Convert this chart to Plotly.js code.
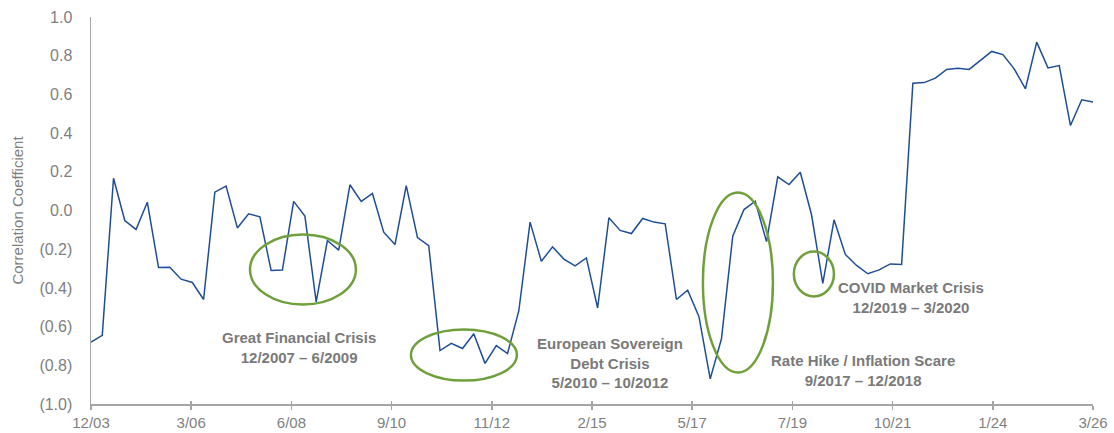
<!DOCTYPE html>
<html>
<head>
<meta charset="utf-8">
<script src="https://cdn.plot.ly/plotly-3.0.1.min.js"></script>
<style>html,body{margin:0;padding:0;background:#fff;}#chart{width:1114px;height:433px;}</style>
</head>
<body>
<div id="chart"></div>
<script>
// Quarterly correlation coefficient, 12/2003 .. 3/2026 (90 quarters)
const correlation = [
  -0.680, -0.645, 0.167, -0.052, -0.098, 0.043, -0.295, -0.293, -0.355, -0.372,
  -0.460, 0.095, 0.126, -0.090, -0.017, -0.033, -0.310, -0.308, 0.047, -0.029,
  -0.472, -0.155, -0.205, 0.133, 0.047, 0.088, -0.112, -0.176, 0.129, -0.140,
  -0.182, -0.724, -0.687, -0.713, -0.637, -0.790, -0.698, -0.739, -0.518, -0.060,
  -0.262, -0.188, -0.251, -0.286, -0.245, -0.504, -0.038, -0.103, -0.119, -0.041,
  -0.060, -0.069, -0.460, -0.412, -0.549, -0.870, -0.663, -0.133, 0.005, 0.048,
  -0.161, 0.174, 0.134, 0.198, -0.022, -0.377, -0.048, -0.227, -0.284, -0.327,
  -0.307, -0.276, -0.279, 0.658, 0.661, 0.684, 0.729, 0.735, 0.729, 0.774,
  0.822, 0.806, 0.732, 0.629, 0.870, 0.737, 0.749, 0.439, 0.572, 0.560
];
// quarter labels (categories)
const quarterLabels = [];
{
  let y = 2003, m = 12;
  for (let i = 0; i < correlation.length; i++) {
    quarterLabels.push(m + '/' + String(y).slice(2));
    m += 3; if (m > 12) { m -= 12; y += 1; }
  }
}
const xTickLabels = ['12/03', '3/06', '6/08', '9/10', '11/12', '2/15', '5/17', '7/19', '10/21', '1/24', '3/26'];
const yTickValues = [1.0, 0.8, 0.6, 0.4, 0.2, 0.0, -0.2, -0.4, -0.6, -0.8, -1.0];
const yTickLabels = ['1.0', '0.8', '0.6', '0.4', '0.2', '0.0', '(0.2)', '(0.4)', '(0.6)', '(0.8)', '(1.0)'];
const crisisLabels = [
  'Great Financial Crisis<br>12/2007 – 6/2009',
  'European Sovereign<br>Debt Crisis<br>5/2010 – 10/2012',
  'Rate Hike / Inflation Scare<br>9/2017 – 12/2018',
  'COVID Market Crisis<br>12/2019 – 3/2020'
];

const n = correlation.length;
const xIdx = correlation.map((_, i) => i);
const lastIdx = n - 1;
const tickVals = xTickLabels.map((_, k) => k * lastIdx / (xTickLabels.length - 1));

const grey = '#7f7f7f';
const axisGrey = '#a6a6a6';
const green = '#70a03c';

const trace = {
  x: xIdx, y: correlation, type: 'scatter', mode: 'lines',
  line: { color: '#1f4e96', width: 1.5 },
  text: quarterLabels, hovertemplate: '%{text}: %{y:.2f}<extra></extra>'
};

function ell(x0, x1, y0, y1) {
  return { type: 'circle', xref: 'x', yref: 'y', x0, x1, y0, y1,
           line: { color: green, width: 2.5 }, fillcolor: 'rgba(0,0,0,0)' };
}
function ann(text, x, y) {
  return { text, x, y, xref: 'x', yref: 'y', showarrow: false, align: 'center',
           font: { family: 'Liberation Sans, Arial, sans-serif', size: 15, color: '#7a7a7a', weight: 'bold' } };
}

const layout = {
  width: 1114, height: 433,
  margin: { l: 91, r: 21, t: 17, b: 29, pad: 0 },
  paper_bgcolor: '#fff', plot_bgcolor: '#fff',
  showlegend: false,
  font: { family: 'Liberation Sans, Arial, sans-serif', color: grey },
  xaxis: {
    range: [0, lastIdx], showgrid: false, zeroline: false,
    showline: true, linecolor: axisGrey, linewidth: 1.5,
    ticks: 'outside', ticklen: 4, tickwidth: 1.5, tickcolor: axisGrey,
    tickmode: 'array', tickvals: tickVals, ticktext: xTickLabels,
    tickfont: { size: 15, color: grey }, ticklabelstandoff: 0
  },
  xaxis2: {
    overlaying: 'x', anchor: 'y', side: 'bottom', range: [0, lastIdx],
    showgrid: false, zeroline: false, showline: false,
    ticks: 'inside', ticklen: 3, tickwidth: 1.5, tickcolor: axisGrey,
    tickmode: 'array', tickvals: tickVals, showticklabels: false
  },
  yaxis: {
    range: [-1, 1], showgrid: false, zeroline: false,
    showline: true, linecolor: axisGrey, linewidth: 1.5,
    ticks: '', tickmode: 'array', tickvals: yTickValues, ticktext: yTickLabels,
    tickfont: { size: 16, color: grey }, ticklabelstandoff: 14,
    title: { text: 'Correlation Coefficient', font: { size: 15, color: grey }, standoff: 12 }
  },
  shapes: [
    ell(14.12, 23.53, -0.124, -0.486),
    ell(28.42, 37.83, -0.615, -0.879),
    ell(54.35, 60.57, 0.093, -0.837),
    ell(62.43, 65.99, -0.212, -0.444)
  ],
  annotations: [
    ann(crisisLabels[0], 18.47, -0.708),
    ann(crisisLabels[1], 46.1, -0.79),
    ann(crisisLabels[2], 68.56, -0.827),
    ann(crisisLabels[3], 72.8, -0.45)
  ]
};

Plotly.newPlot('chart', [trace, { x: [0, lastIdx], y: [0, 0], xaxis: 'x2', yaxis: 'y', mode: 'lines', line: { width: 0 }, hoverinfo: 'skip' }], layout, { displayModeBar: false, staticPlot: true });
</script>
</body>
</html>
